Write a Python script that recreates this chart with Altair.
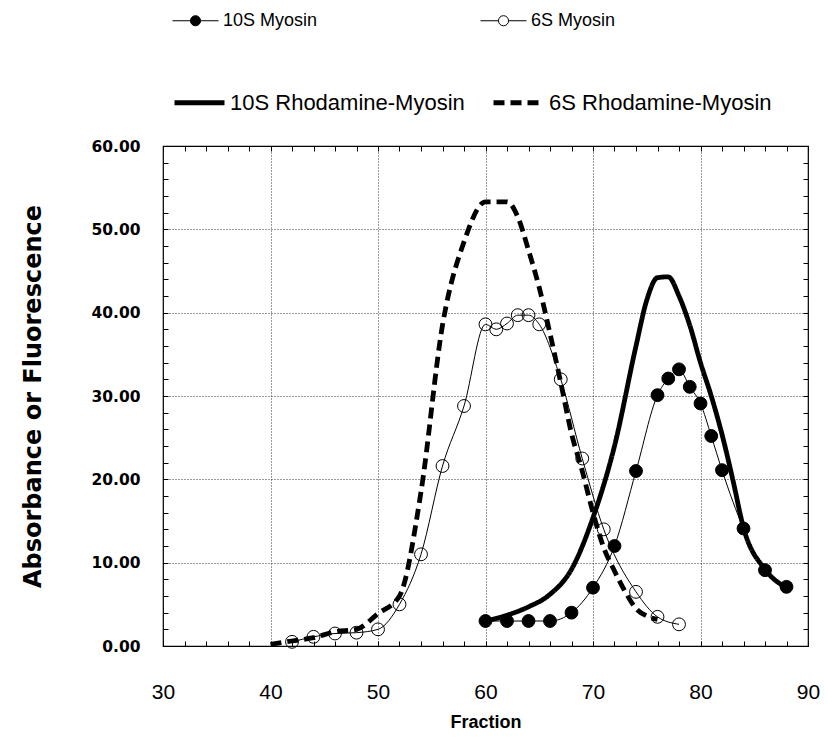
import altair as alt
import pandas as pd

# ---------------- data ----------------
# 10S Myosin (filled circles)
frac_10s = [60, 62, 64, 66, 68, 70, 72, 74, 76, 77, 78, 79, 80, 81, 82, 84, 86, 88]
val_10s = [3.0, 3.0, 3.0, 3.0, 4.0, 7.0, 12.0, 21.0, 30.1, 32.1, 33.2, 31.1, 29.1, 25.2, 21.1, 14.1, 9.1, 7.1]

# 6S Myosin (open circles)
frac_6s = [42, 44, 46, 48, 50, 52, 54, 56, 58, 60, 61, 62, 63, 64, 65, 67, 69, 71, 74, 76, 78]
val_6s = [0.5, 1.1, 1.5, 1.6, 2.0, 5.0, 11.0, 21.6, 28.8, 38.6, 38.0, 38.7, 39.7, 39.7, 38.6, 32.0, 22.5, 14.0, 6.5, 3.5, 2.6]

# 10S Rhodamine-Myosin (thick solid line)
frac_r10 = [60, 62, 64, 66, 68, 70, 72, 74, 75, 76, 77, 78, 79, 80, 81, 82, 83, 84, 86, 88]
val_r10 = [3.0, 3.7, 4.7, 6.2, 9.2, 15.4, 24.0, 36.0, 41.5, 44.2, 44.3, 42.0, 38.5, 34.0, 30.0, 25.4, 20.0, 14.2, 9.2, 7.0]

# 6S Rhodamine-Myosin (thick dashed line)
frac_r6 = [40, 42, 44, 46, 48, 50, 52, 54, 56, 58, 60, 61, 62, 63, 64, 65, 66, 67, 68, 69, 70, 71, 72, 73, 74, 75, 76]
val_r6 = [0.2, 0.6, 1.0, 1.7, 2.0, 3.9, 6.0, 18.5, 38.5, 48.5, 53.3, 53.3, 53.3, 51.5, 47.5, 43.0, 37.5, 31.6,
          25.5, 21.0, 16.0, 11.8, 9.0, 6.5, 4.5, 3.6, 3.2]

myo_names = ["10S Myosin", "6S Myosin"]
rho_names = ["10S Rhodamine-Myosin", "6S Rhodamine-Myosin"]
x_major = [30, 40, 50, 60, 70, 80, 90]
y_major = [0, 10, 20, 30, 40, 50, 60]
x_minor = list(range(30, 91, 2))
y_minor = list(range(0, 61, 2))

myo = pd.DataFrame({
    "fraction": frac_10s + frac_6s,
    "value": val_10s + val_6s,
    "series": [myo_names[0]] * len(frac_10s) + [myo_names[1]] * len(frac_6s),
})
rho = pd.DataFrame({
    "fraction": frac_r10 + frac_r6,
    "value": val_r10 + val_r6,
    "rh": [rho_names[0]] * len(frac_r10) + [rho_names[1]] * len(frac_r6),
})

xs = alt.Scale(domain=[30, 90], nice=False, zero=False)
ys = alt.Scale(domain=[0, 60], nice=False, zero=False)

major_x = alt.Axis(orient="bottom", values=x_major, format="d", title="Fraction",
                   grid=True, gridColor="black", gridDash=[1, 2], gridWidth=0.8,
                   ticks=False, tickSize=0, domain=False, labelFlush=False,
                   labelFont="Liberation Sans", labelFontSize=21, labelPadding=35,
                   labelColor="black", titleFont="Liberation Sans", titleFontSize=18,
                   titleFontWeight="bold", titlePadding=11, titleColor="black")
major_y = alt.Axis(orient="left", values=y_major, format=".2f", title="Absorbance or Fluorescence",
                   grid=True, gridColor="black", gridDash=[1, 2], gridWidth=0.8,
                   ticks=False, tickSize=0, domain=False, labelFlush=False,
                   labelFont="DejaVu Sans", labelFontSize=15.5, labelFontWeight="bold",
                   labelPadding=23, labelColor="black",
                   titleFont="DejaVu Sans", titleFontSize=24, titleFontWeight="bold",
                   titlePadding=45, titleColor="black")


def minor(orient, vals):
    return alt.Axis(orient=orient, values=vals, labels=False, domain=False, grid=False,
                    ticks=True, tickSize=5, tickColor="black", tickWidth=1, offset=-5, title=None)


DOT_LINE = ("M-1,0L-0.22,0M0.22,0L1,0M-0.22,0A0.22,0.22,0,1,1,0.22,0"
            "A0.22,0.22,0,1,1,-0.22,0Z")

leg_myo = alt.Legend(title=None, orient="none", legendX=9, legendY=-149, direction="horizontal",
                     symbolType=DOT_LINE, symbolSize=2116, symbolStrokeColor="black",
                     symbolStrokeWidth=1, labelFont="Liberation Sans", labelFontSize=18,
                     labelColor="black", labelOffset=4, labelLimit=400, columnPadding=160, padding=0)
leg_rho = alt.Legend(title=None, orient="none", legendX=9, legendY=-71, direction="horizontal",
                     symbolType="stroke", symbolSize=2500, symbolStrokeColor="black",
                     symbolStrokeWidth=5, labelFont="Liberation Sans", labelFontSize=22,
                     labelColor="black", labelOffset=3, labelLimit=400, columnPadding=18, padding=0)

rho_layer = alt.Chart(rho).mark_line(color="black", strokeWidth=4.8, interpolate="monotone",
                                     strokeCap="butt").encode(
    x=alt.X("fraction:Q", scale=xs, axis=major_x),
    y=alt.Y("value:Q", scale=ys, axis=major_y),
    strokeDash=alt.StrokeDash("rh:N", scale=alt.Scale(domain=rho_names, range=[[1, 0], [11, 6]]),
                              legend=leg_rho),
)

myo_line = alt.Chart(myo).mark_line(color="black", strokeWidth=1, interpolate="monotone").encode(
    x=alt.X("fraction:Q", scale=xs, axis=minor("bottom", x_minor)),
    y=alt.Y("value:Q", scale=ys, axis=minor("left", y_minor)),
    detail="series:N",
)

myo_pts = alt.Chart(myo).mark_point(filled=True, size=165, stroke="black", strokeWidth=1,
                                    opacity=1).encode(
    x=alt.X("fraction:Q", scale=xs, axis=minor("top", x_minor)),
    y=alt.Y("value:Q", scale=ys, axis=minor("right", y_minor)),
    fill=alt.Fill("series:N", scale=alt.Scale(domain=myo_names, range=["black", "transparent"]),
                  legend=leg_myo),
)

chart = (
    alt.layer(rho_layer, myo_line, myo_pts)
    .resolve_axis(x="independent", y="independent")
    .properties(width=645, height=500, autosize=alt.AutoSizeParams(type="none"),
                padding={"left": 155, "top": 138, "right": 12, "bottom": 88},
                background="white")
    .configure_view(stroke="black", strokeWidth=1.2)
)

chart.save("out.html", embed_options={"renderer": "svg", "actions": False})
